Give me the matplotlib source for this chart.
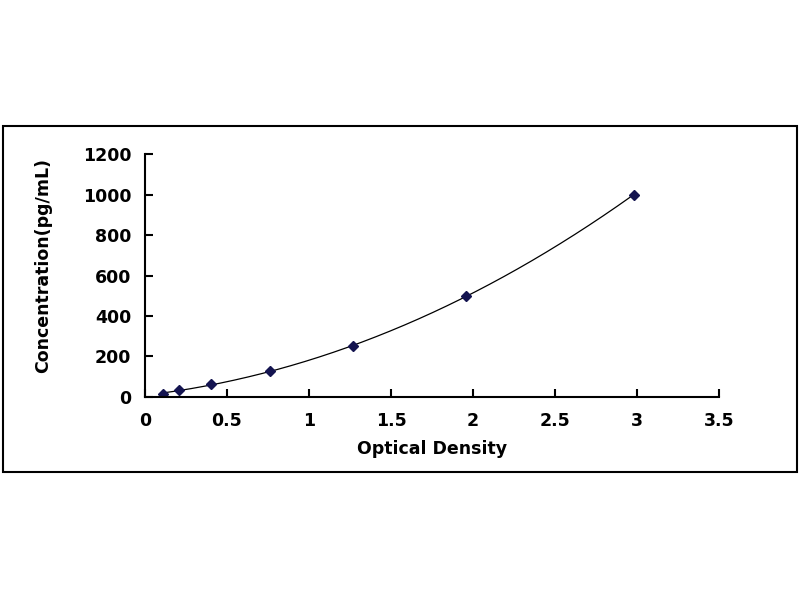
import matplotlib
matplotlib.use("Agg")
import matplotlib.pyplot as plt
from matplotlib.patches import Rectangle
import numpy as np

plt.rcParams['font.family'] = ['DejaVu Sans']

# standard curve points
od = [0.11, 0.21, 0.40, 0.76, 1.27, 1.96, 2.98]
conc = [15.6, 31.2, 62.5, 125, 250, 500, 1000]

xticks = [0, 0.5, 1, 1.5, 2, 2.5, 3, 3.5]
xticklabels = ["0", "0.5", "1", "1.5", "2", "2.5", "3", "3.5"]
yticks = [0, 200, 400, 600, 800, 1000, 1200]

fig = plt.figure(figsize=(8, 6), dpi=100)
ax = fig.add_axes([0.18125, 0.3388, 0.7175, 0.404])

# outer frame
fig.patches.append(Rectangle((3 / 800, 1 - 472 / 600), 794 / 800, 346 / 600,
                             transform=fig.transFigure, fill=False,
                             edgecolor="black", linewidth=1.5))

# smooth fitted curve
coef = np.polyfit(od, conc, 3)
xs = np.linspace(od[0], od[-1], 200)
ax.plot(xs, np.polyval(coef, xs), color="black", linewidth=0.9)
ax.plot(od, conc, linestyle="none", marker="D", markersize=5.5,
        color="#141450")

ax.set_xlim(0, 3.5)
ax.set_ylim(0, 1200)
ax.set_xticks(xticks)
ax.set_xticklabels(xticklabels)
ax.set_yticks(yticks)

for s in ["top", "right"]:
    ax.spines[s].set_visible(False)
for s in ["left", "bottom"]:
    ax.spines[s].set_linewidth(1.5)

ax.tick_params(axis="both", direction="in", length=6, width=1.5,
               labelsize=12.5)
ax.tick_params(axis="x", pad=11)
ax.tick_params(axis="y", pad=10)
for lab in ax.get_xticklabels() + ax.get_yticklabels():
    lab.set_fontweight("bold")

ax.set_xlabel("Optical Density", fontsize=12.5, fontweight="bold")
ax.set_ylabel("Concentration(pg/mL)", fontsize=12.5, fontweight="bold")
ax.xaxis.set_label_coords(0.5, -0.216)
ax.yaxis.set_label_coords(-0.178, 0.543)
ax.xaxis.label.set_va("center")
ax.yaxis.label.set_va("center")

fig.savefig("out.png", dpi=100)
